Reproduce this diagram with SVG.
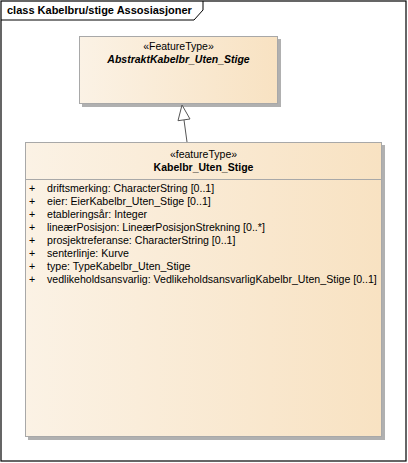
<svg xmlns="http://www.w3.org/2000/svg" width="408" height="463" viewBox="0 0 408 463">
<defs>
<linearGradient id="g" x1="0" y1="0" x2="1" y2="0">
<stop offset="0" stop-color="#FBF2E5"/>
<stop offset="1" stop-color="#F8E2C2"/>
</linearGradient>
<style>
text{font-family:"Liberation Sans",Arial,sans-serif;fill:#000}
.t{font-size:10.5px}
.b{font-weight:bold}
.i{font-style:italic}
.box{fill:url(#g);stroke:#A8A8A8;stroke-width:1}
.sh{fill:#B0B0B0}
.a{font-size:10.6px}
</style>
</defs>
<rect x="0" y="0" width="408" height="463" fill="#fff"/>
<g id="frame">
<rect x="1" y="1" width="405" height="460" fill="none" stroke="#000" stroke-width="1.2"/>
<path d="M1,20 H194 L203,10 V1" fill="none" stroke="#000" stroke-width="1"/>
<text x="7" y="14" class="b" font-size="11px">class Kabelbru/stige Assosiasjoner</text>
</g>
<g id="AbstraktKabelbr_Uten_Stige">
<rect class="sh" x="82" y="39" width="199" height="68"/>
<rect class="box" x="79.5" y="36.5" width="198" height="67"/>
<text x="178.5" y="50" class="t" text-anchor="middle">«FeatureType»</text>
<text x="178.5" y="63" class="t b i" text-anchor="middle">AbstraktKabelbr_Uten_Stige</text>
</g>
<g id="Kabelbr_Uten_Stige">
<rect class="sh" x="28" y="145" width="357" height="295"/>
<rect class="box" x="25.5" y="142.5" width="356" height="294"/>
<line x1="25.5" y1="179.5" x2="381.5" y2="179.5" stroke="#A8A8A8"/>
<text x="203.5" y="158" class="t" text-anchor="middle">«featureType»</text>
<text x="203.5" y="171" class="t b" text-anchor="middle">Kabelbr_Uten_Stige</text>
<g class="a">
<text x="29" y="192">+</text><text x="47" y="192">driftsmerking: CharacterString [0..1]</text>
<text x="29" y="205">+</text><text x="47" y="205">eier: EierKabelbr_Uten_Stige [0..1]</text>
<text x="29" y="218">+</text><text x="47" y="218">etableringsår: Integer</text>
<text x="29" y="231">+</text><text x="47" y="231">lineærPosisjon: LineærPosisjonStrekning [0..*]</text>
<text x="29" y="244">+</text><text x="47" y="244">prosjektreferanse: CharacterString [0..1]</text>
<text x="29" y="257">+</text><text x="47" y="257">senterlinje: Kurve</text>
<text x="29" y="270">+</text><text x="47" y="270">type: TypeKabelbr_Uten_Stige</text>
<text x="29" y="283">+</text><text x="47" y="283">vedlikeholdsansvarlig: VedlikeholdsansvarligKabelbr_Uten_Stige [0..1]</text>
</g>
</g>
<g id="connectors">
<line x1="187" y1="142" x2="184" y2="120" stroke="#555" stroke-width="1"/>
<polygon points="182,105 190,119 178,120.7" fill="#fff" stroke="#555" stroke-width="1"/>
</g>
</svg>
